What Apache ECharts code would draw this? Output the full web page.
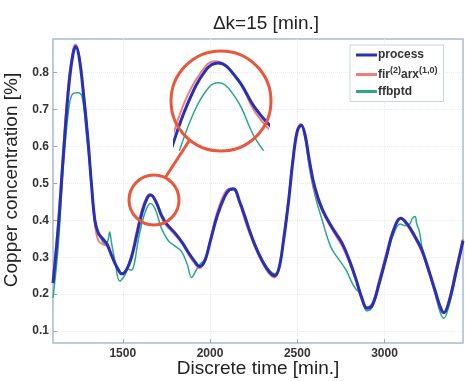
<!DOCTYPE html>
<html>
<head>
<meta charset="utf-8">
<script src="https://cdn.jsdelivr.net/npm/echarts@6/dist/echarts.min.js"></script>
<style>
  html, body { margin: 0; padding: 0; background: #fff; }
  #chart { width: 465px; height: 381px; }
</style>
</head>
<body>
<div id="chart"></div>
<script>
// time [min.] and copper concentration [%]
const timeProcess = [1100, 1130, 1160, 1190, 1215, 1231, 1250, 1275, 1300, 1320, 1340, 1360, 1385, 1410, 1440, 1470, 1495, 1520, 1550, 1580, 1610, 1640, 1660, 1690, 1720, 1751, 1800, 1843, 1880, 1910, 1940, 1970, 2000, 2040, 2080, 2110, 2135, 2170, 2200, 2226, 2260, 2300, 2340, 2370, 2395, 2420, 2450, 2475, 2500, 2523, 2545, 2570, 2600, 2643, 2700, 2757, 2800, 2837, 2870, 2900, 2930, 2970, 3010, 3050, 3094, 3130, 3170, 3214, 3250, 3290, 3320, 3340, 3370, 3410, 3450]
const process = [0.23, 0.38, 0.58, 0.76, 0.85, 0.87, 0.84, 0.74, 0.62, 0.50, 0.40, 0.365, 0.35, 0.335, 0.30, 0.27, 0.255, 0.265, 0.30, 0.36, 0.42, 0.46, 0.468, 0.45, 0.415, 0.39, 0.365, 0.338, 0.31, 0.29, 0.275, 0.29, 0.34, 0.41, 0.46, 0.482, 0.485, 0.45, 0.41, 0.373, 0.33, 0.29, 0.26, 0.25, 0.27, 0.34, 0.45, 0.56, 0.64, 0.657, 0.63, 0.56, 0.49, 0.43, 0.38, 0.338, 0.29, 0.24, 0.19, 0.162, 0.17, 0.23, 0.30, 0.37, 0.405, 0.39, 0.36, 0.32, 0.27, 0.21, 0.165, 0.15, 0.18, 0.26, 0.345]

const timeFir = [1100, 1130, 1160, 1190, 1215, 1228, 1250, 1275, 1300, 1320, 1340, 1360, 1385, 1410, 1440, 1470, 1495, 1520, 1550, 1580, 1610, 1640, 1655, 1690, 1720, 1751, 1800, 1843, 1880, 1910, 1940, 1970, 2000, 2040, 2080, 2110, 2130, 2170, 2200, 2226, 2260, 2300, 2340, 2370, 2395, 2420, 2450, 2475, 2500, 2520, 2545, 2570, 2600, 2643, 2700, 2757, 2800, 2837, 2870, 2900, 2930, 2970, 3010, 3050, 3090, 3130, 3170, 3214, 3250, 3290, 3320, 3340, 3370, 3410, 3450]
const fir = [0.24, 0.40, 0.60, 0.78, 0.86, 0.875, 0.845, 0.75, 0.62, 0.50, 0.39, 0.345, 0.335, 0.33, 0.30, 0.27, 0.255, 0.265, 0.305, 0.37, 0.43, 0.465, 0.47, 0.45, 0.41, 0.385, 0.36, 0.335, 0.305, 0.285, 0.27, 0.29, 0.345, 0.42, 0.47, 0.485, 0.485, 0.445, 0.40, 0.365, 0.325, 0.285, 0.255, 0.245, 0.27, 0.35, 0.46, 0.57, 0.645, 0.66, 0.625, 0.55, 0.48, 0.425, 0.375, 0.33, 0.285, 0.235, 0.185, 0.165, 0.175, 0.24, 0.31, 0.375, 0.405, 0.385, 0.355, 0.315, 0.265, 0.205, 0.16, 0.15, 0.185, 0.27, 0.35]

const timeFfb = [1100, 1130, 1160, 1190, 1210, 1240, 1266, 1290, 1320, 1345, 1370, 1400, 1415, 1425, 1435, 1455, 1483, 1510, 1530, 1550, 1565, 1590, 1620, 1645, 1660, 1690, 1720, 1760, 1800, 1837, 1870, 1894, 1915, 1940, 1970, 2000, 2040, 2080, 2110, 2135, 2170, 2200, 2226, 2260, 2300, 2340, 2370, 2395, 2420, 2450, 2475, 2500, 2523, 2545, 2570, 2600, 2643, 2690, 2729, 2780, 2820, 2843, 2860, 2880, 2900, 2930, 2970, 3010, 3050, 3090, 3120, 3145, 3160, 3175, 3185, 3200, 3214, 3250, 3290, 3320, 3340, 3370, 3410, 3450]
const ffbptd = [0.19, 0.33, 0.55, 0.70, 0.74, 0.745, 0.735, 0.64, 0.50, 0.39, 0.355, 0.335, 0.345, 0.368, 0.34, 0.29, 0.235, 0.25, 0.268, 0.265, 0.28, 0.35, 0.41, 0.44, 0.445, 0.425, 0.38, 0.345, 0.33, 0.315, 0.28, 0.245, 0.26, 0.28, 0.295, 0.345, 0.415, 0.465, 0.48, 0.482, 0.445, 0.405, 0.37, 0.33, 0.29, 0.265, 0.255, 0.27, 0.34, 0.45, 0.56, 0.64, 0.655, 0.62, 0.54, 0.47, 0.40, 0.33, 0.30, 0.265, 0.225, 0.21, 0.205, 0.17, 0.155, 0.165, 0.225, 0.295, 0.36, 0.39, 0.385, 0.39, 0.405, 0.41, 0.39, 0.37, 0.33, 0.265, 0.2, 0.15, 0.135, 0.17, 0.25, 0.34]

const xTicks = [1500, 2000, 2500, 3000]
const yTicks = [0.1, 0.2, 0.3, 0.4, 0.5, 0.6, 0.7, 0.8]
const legendNames = ['process', 'fir(2)arx(1,0)', 'ffbptd']

const pairs = (t, v) => t.map((x, i) => [x, v[i]])

const chart = echarts.init(document.getElementById('chart'))
const font = 'Liberation Sans, Arial, sans-serif'
const red = '#e8583e'

const lineSeries = (name, data, color, width, z, axis) => ({
  name,
  type: 'line',
  data,
  xAxisIndex: axis,
  yAxisIndex: axis,
  smooth: 0.4,
  symbol: 'none',
  clip: true,
  z,
  lineStyle: { color, width },
  itemStyle: { color },
})

chart.setOption({
  animation: false,
  title: {
    text: 'Δk=15 [min.]',
    left: 261,
    top: 9,
    textAlign: 'center',
    textStyle: { fontFamily: font, fontSize: 19, fontWeight: 'normal', color: '#222' },
  },
  legend: {
    data: legendNames,
    orient: 'vertical',
    left: 350,
    top: 45,
    padding: [4, 6, 4, 6],
    itemGap: 5,
    itemWidth: 21,
    itemHeight: 3,
    icon: 'rect',
    backgroundColor: '#fff',
    borderColor: '#c8d4e0',
    borderWidth: 1,
    textStyle: {
      fontFamily: font,
      fontSize: 12,
      fontWeight: 'bold',
      color: '#333',
      padding: [0, 0, 0, -4],
      rich: {
        n: { fontFamily: font, fontSize: 12, fontWeight: 'bold', color: '#333' },
        s: { fontFamily: font, fontSize: 9, fontWeight: 'bold', color: '#333', padding: [0, 0, 8, 0] },
      },
    },
    formatter: (name) => name === 'fir(2)arx(1,0)' ? '{n|fir}{s|(2)}{n|arx}{s|(1,0)}' : name,
  },
  grid: [
    { left: 53, top: 39, right: 2, bottom: 38, outerBoundsMode: 'none', show: true, borderColor: '#a8bccf', borderWidth: 1.5 },
    { left: 175, top: 50, width: 93, height: 100, outerBoundsMode: 'none' },
  ],
  xAxis: [
    {
      type: 'value',
      min: 1100,
      max: 3450,
      name: 'Discrete time [min.]',
      nameLocation: 'middle',
      nameGap: 16,
      nameMoveOverlap: false,
      nameTextStyle: { fontFamily: font, fontSize: 19, color: '#222' },
      axisLine: { show: false },
      axisTick: { show: true, inside: true, length: 4, customValues: xTicks, lineStyle: { color: '#9ab' } },
      axisLabel: {
        customValues: xTicks, margin: 5, fontFamily: font, fontSize: 12, fontWeight: 'bold', color: '#333',
        formatter: (v) => String(v),
      },
      splitLine: { show: true, customValues: xTicks, lineStyle: { color: '#e4ecf4', type: 'dotted' } },
    },
    {
      type: 'value', gridIndex: 1, min: 1590, max: 1740, show: false,
    },
  ],
  yAxis: [
    {
      type: 'value',
      min: 0.068,
      max: 0.89,
      name: 'Copper concentration [%]',
      nameLocation: 'middle',
      nameGap: 24,
      nameTextStyle: { fontFamily: font, fontSize: 19, color: '#222', padding: [0, 0, 0, 22] },
      axisLine: { show: false },
      axisTick: { show: true, inside: true, length: 4, customValues: yTicks, lineStyle: { color: '#9ab' } },
      axisLabel: { customValues: yTicks, margin: 4, fontFamily: font, fontSize: 12, fontWeight: 'bold', color: '#333' },
      splitLine: { show: true, customValues: yTicks, lineStyle: { color: '#e4ecf4', type: 'dotted' } },
    },
    {
      type: 'value', gridIndex: 1, min: 0.367, max: 0.483, show: false,
    },
  ],
  graphic: [
    { type: 'circle', shape: { cx: 221, cy: 101, r: 50 }, style: { fill: 'none', stroke: red, lineWidth: 3 }, z: 100 },
    { type: 'circle', shape: { cx: 154, cy: 200, r: 25 }, style: { fill: 'none', stroke: red, lineWidth: 3 }, z: 100 },
    { type: 'line', shape: { x1: 165, y1: 178, x2: 189, y2: 141 }, style: { stroke: red, lineWidth: 3 }, z: 100 },
  ],
  series: [
    lineSeries('ffbptd', pairs(timeFfb, ffbptd), '#2ea58e', 1.5, 2, 0),
    lineSeries('fir(2)arx(1,0)', pairs(timeFir, fir), '#f27c7c', 2, 3, 0),
    lineSeries('process', pairs(timeProcess, process), '#2830b8', 3, 4, 0),
    lineSeries('ffbptd', pairs(timeFfb, ffbptd), '#2ea58e', 1.5, 2, 1),
    lineSeries('fir(2)arx(1,0)', pairs(timeFir, fir), '#f27c7c', 2, 3, 1),
    lineSeries('process', pairs(timeProcess, process), '#2830b8', 3, 4, 1),
  ],
})
</script>
</body>
</html>
